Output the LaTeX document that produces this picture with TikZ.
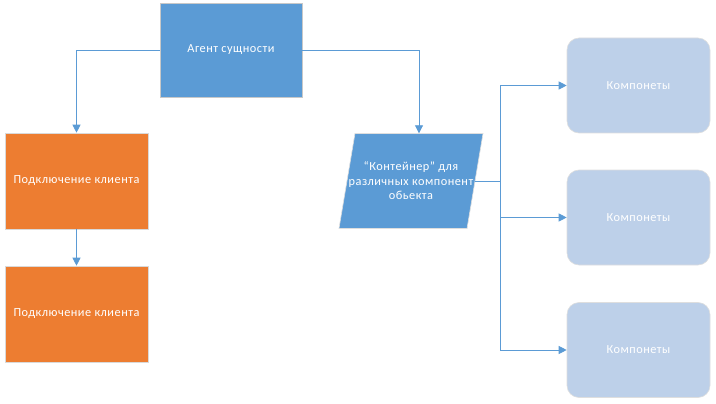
\documentclass[tikz,border=0pt]{standalone}
\usepackage{fontspec}
\setmainfont{Carlito}[LetterSpace=4]
\usetikzlibrary{arrows.meta}
\definecolor{boxblue}{HTML}{5B9BD5}
\definecolor{boxorange}{HTML}{ED7D31}
\definecolor{lightblue}{HTML}{BDD0E9}
\definecolor{edgegray}{HTML}{C8C8C8}
\begin{document}
\begin{tikzpicture}[x=1pt,y=-1pt,
  every node/.style={font=\fontsize{12.3}{14.6}\selectfont, text=white, align=center},
  bluebox/.style={fill=boxblue, draw=edgegray, line width=0.6pt, minimum width=142pt, minimum height=94pt, inner sep=0pt},
  orangebox/.style={fill=boxorange, draw=edgegray!70, line width=0.6pt, minimum width=143pt, minimum height=96pt, inner sep=0pt},
  compbox/.style={fill=lightblue, draw=edgegray!60, line width=0.6pt, rounded corners=12pt, minimum width=143pt, minimum height=95pt, inner sep=0pt},
  conn/.style={draw=boxblue, line width=0.9pt},
  arr/.style={conn, -{Triangle[length=8pt,width=8pt]}}
]
\useasboundingbox (0,0) rectangle (716,404);
\node[bluebox] (agent) at (231,50) {Агент сущности};
\node[orangebox] (c1) at (76.5,181) {Подключение клиента};
\node[orangebox] (c2) at (76.5,314) {Подключение клиента};
\fill[boxblue, draw=edgegray!60, line width=0.6pt] (339,228.5) -- (355,133.5) -- (483,133.5) -- (467,228.5) -- cycle;
\node[minimum width=128pt, minimum height=95pt, inner sep=0pt] (cont) at (411,181) {“Контейнер” для\\различных компонент\\обьекта};
\node[compbox] (k1) at (638.5,85.5) {Компонеты};
\node[compbox] (k2) at (638.5,217.5) {Компонеты};
\node[compbox] (k3) at (638.5,350) {Компонеты};
\coordinate (hub) at (500,181);
\draw[arr] (agent.west) -| (c1.north);
\draw[arr] (agent.east) -| ([xshift=8pt]cont.north);
\draw[arr] (c1.south) -- (c2.north);
\draw[conn] (cont.east) -- (hub);
\draw[arr] (hub) |- (k1.west);
\draw[arr] (hub) |- (k2.west);
\draw[arr] (hub) |- (k3.west);
\end{tikzpicture}
\end{document}
